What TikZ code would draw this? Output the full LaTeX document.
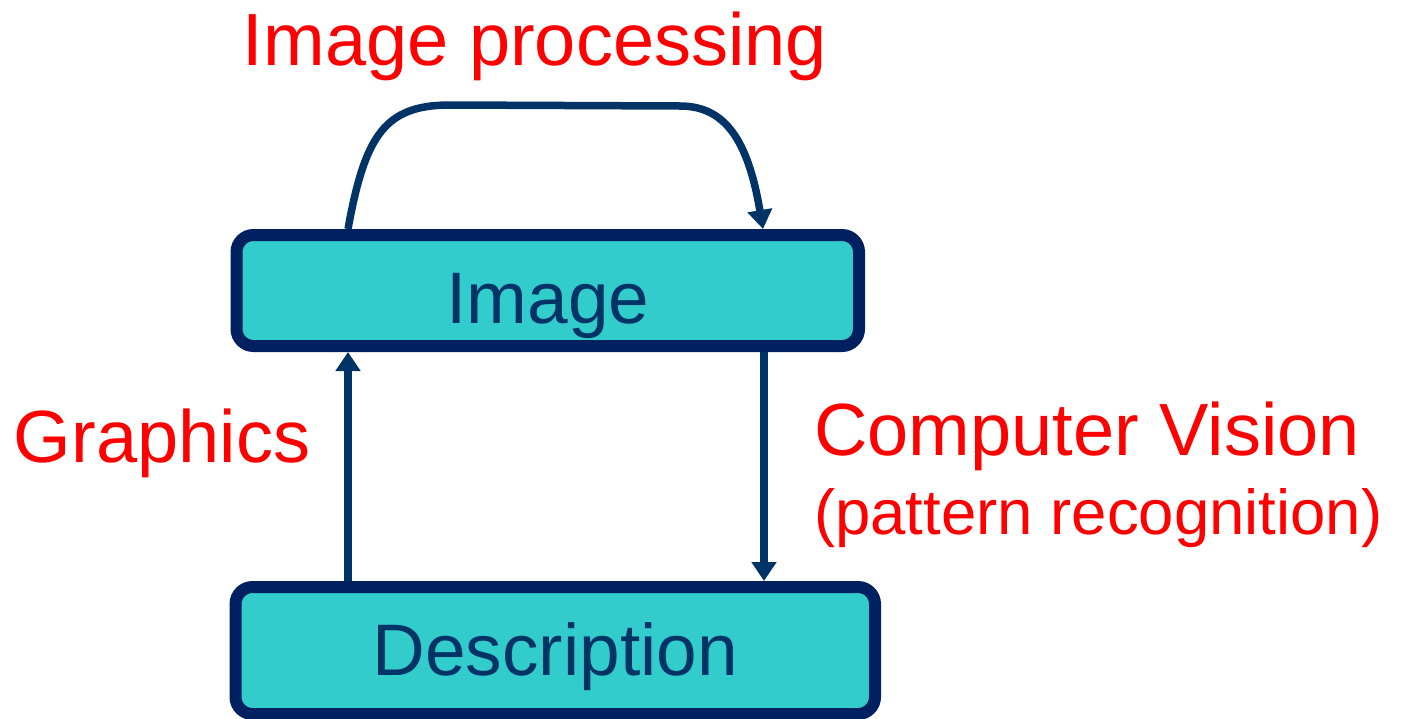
\documentclass[tikz,border=0pt]{standalone}
\usepackage{fontspec}
\setmainfont{Liberation Sans}
\usetikzlibrary{arrows.meta}
\definecolor{boxfill}{HTML}{33CCCC}
\definecolor{boxline}{HTML}{002060}
\definecolor{flow}{HTML}{003366}
\definecolor{lbl}{HTML}{FF0000}
\tikzset{
  stage/.style={draw=boxline, fill=boxfill, line width=12pt, rounded corners=17pt,
    inner sep=0pt, text=flow, font=\fontsize{73}{80}\selectfont},
  arr/.style={draw=flow, line width=7.5pt,
    -{Triangle[length=19pt, width=24pt]}},
  tag/.style={text=lbl, inner sep=0pt, font=\fontsize{74}{80}\selectfont},
  subtag/.style={text=lbl, inner sep=0pt, font=\fontsize{63.5}{70}\selectfont}
}
\begin{document}
\begin{tikzpicture}[x=1pt, y=-1pt]
  \useasboundingbox (0,0) rectangle (1403,718);
  % the two stages
  \node[stage, minimum width=622.5pt, minimum height=111pt,
        text height=65pt, text depth=0pt] (img) at (547.75,290.5) {Image};
  \node[stage, minimum width=639.5pt, minimum height=127pt,
        text height=49pt, text depth=0pt] (desc) at (555.25,650.5) {Description};
  % columns of the vertical connectors
  \coordinate (gx) at (348,0);
  \coordinate (cvx) at (764,0);
  \coordinate (ipx) at (763,0);
  % connectors
  \draw[arr] (desc.north -| gx) -- (img.south -| gx);
  \draw[arr] (img.south -| cvx) -- (desc.north -| cvx);
  \draw[arr] (img.north -| gx) .. controls (365,135) and (385,105) .. (450,105)
    -- (680,106) .. controls (725,106) and (748,140) .. (img.north -| ipx);
  % labels
  \node[tag, anchor=base] (lip) at (535,65) {Image processing};
  \node[tag, anchor=base] (lgr) at (162,462) {Graphics};
  \node[tag, anchor=base west] (lcv) at (814,455) {Computer Vision};
  \node[subtag, anchor=base west] (lpr) at (814,534) {(pattern recognition)};
\end{tikzpicture}
\end{document}
